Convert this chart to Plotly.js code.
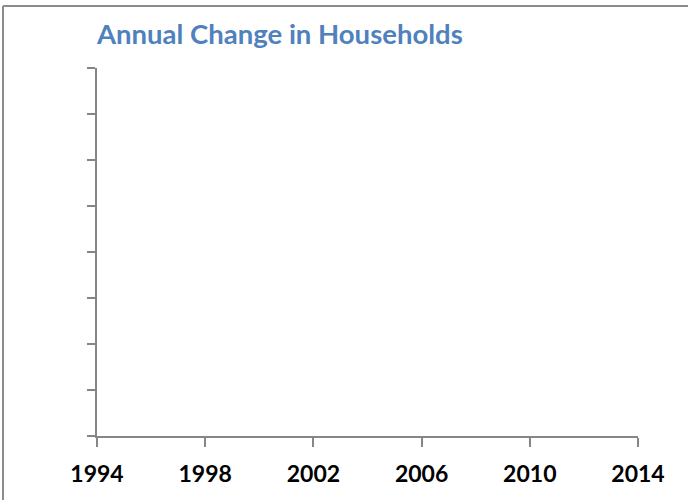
<!DOCTYPE html>
<html>
<head>
<meta charset="utf-8">
<script src="https://cdn.plot.ly/plotly-3.0.1.min.js"></script>
<style>html,body{margin:0;padding:0;background:#fff;}#chart{width:688px;height:500px;}</style>
</head>
<body>
<div id="chart"></div>
<script>
// Data (no values are shown in the reference chart)
var years = [1994, 1995, 1996, 1997, 1998, 1999, 2000, 2001, 2002, 2003, 2004, 2005, 2006, 2007, 2008, 2009, 2010, 2011, 2012, 2013, 2014];
var householdChange = [null, null, null, null, null, null, null, null, null, null, null, null, null, null, null, null, null, null, null, null, null];
var tickYears = [1994, 1998, 2002, 2006, 2010, 2014];
var tickLabels = ['1994', '1998', '2002', '2006', '2010', '2014'];

var W = 688, H = 500;
var m = {l: 97, r: 50, t: 68, b: 64};
var pw = W - m.l - m.r, ph = H - m.t - m.b;
function px(x) { return (x - m.l) / pw; }
function py(y) { return (H - m.b - y) / ph; }

var data = [{
  type: 'scatter', mode: 'lines',
  x: years, y: householdChange,
  line: {color: '#4F81BD', width: 2},
  showlegend: false, hoverinfo: 'skip'
}];

var axisColor = '#868686';
var layout = {
  width: W, height: H,
  margin: m,
  paper_bgcolor: '#ffffff', plot_bgcolor: '#ffffff',
  font: {family: 'Lato, "Open Sans", sans-serif', color: '#000000'},
  title: {
    text: '<b>Annual Change in Households</b>',
    font: {family: 'Lato, "Open Sans", sans-serif', size: 27.5, color: '#4F81BD'},
    x: 97 / W, xref: 'container', xanchor: 'left',
    y: 1 - 34 / H, yref: 'container', yanchor: 'middle'
  },
  xaxis: {
    range: [1994, 2014], tickmode: 'array', tickvals: tickYears, ticktext: tickLabels,
    showgrid: false, zeroline: false, showline: true, linecolor: axisColor, linewidth: 2,
    ticks: 'outside', ticklen: 9, tickwidth: 2, tickcolor: axisColor,
    tickfont: {family: 'Lato, "Open Sans", sans-serif', size: 23, color: '#000000', weight: 'bold'},
    ticklabelstandoff: 7, fixedrange: true
  },
  yaxis: {
    range: [0, 8], tickmode: 'linear', tick0: 0, dtick: 1,
    showgrid: false, zeroline: false, showline: true, linecolor: axisColor, linewidth: 2,
    ticks: 'outside', ticklen: 8, tickwidth: 2, tickcolor: axisColor,
    showticklabels: false, fixedrange: true
  },
  shapes: [
    {type: 'line', xref: 'paper', yref: 'paper', x0: px(3), x1: px(700), y0: py(6), y1: py(6), line: {color: '#8C8C8C', width: 2}},
    {type: 'line', xref: 'paper', yref: 'paper', x0: px(3), x1: px(3), y0: py(6), y1: py(510), line: {color: '#8C8C8C', width: 2}}
  ]
};

Plotly.newPlot('chart', data, layout, {displayModeBar: false, staticPlot: true});
</script>
</body>
</html>
